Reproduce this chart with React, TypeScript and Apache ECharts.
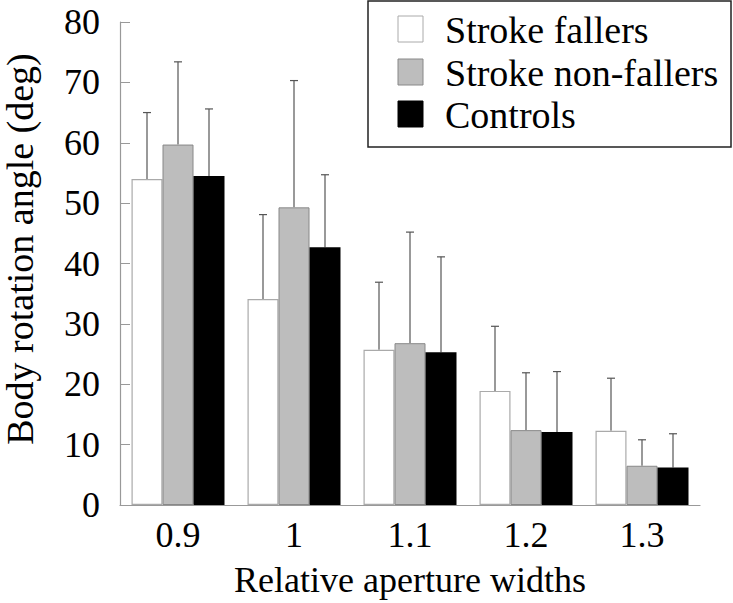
import React, { useEffect, useRef } from "react";
import * as echarts from "echarts";

const categories = ["0.9", "1", "1.1", "1.2", "1.3"];
const seriesNames = ["Stroke fallers", "Stroke non-fallers", "Controls"];
const fallers = [54.0, 34.1, 25.7, 18.9, 12.3];
const fallersSD = [11.0, 14.0, 11.2, 10.7, 8.7];
const nonFallers = [59.7, 49.3, 26.8, 12.4, 6.5];
const nonFallersSD = [13.7, 21.0, 18.4, 9.5, 4.3];
const controls = [54.5, 42.7, 25.3, 12.1, 6.2];
const controlsSD = [11.1, 12.0, 15.8, 10.0, 5.6];
const yTicks = [0, 10, 20, 30, 40, 50, 60, 70, 80];

const FONT = "Liberation Serif";
const BAR_W = 31;
const fills = ["#fff", "#bdbdbd", "#000"];
const borders = ["#aaa", "#888", "#000"];

function errorSeries(idx: number, vals: number[], sds: number[]) {
  const offset = (idx - 1) * BAR_W;
  return {
    type: "custom",
    name: seriesNames[idx] + " SD",
    z: 1,
    data: vals.map((v, i) => [i, v, v + sds[i]]),
    renderItem: (params: any, api: any) => {
      const base = api.coord([api.value(0), api.value(1)]);
      const top = api.coord([api.value(0), api.value(2)]);
      const x = base[0] + offset;
      const style = { stroke: "#555", lineWidth: 1.2 };
      return {
        type: "group",
        children: [
          { type: "line", shape: { x1: x, y1: base[1], x2: x, y2: top[1] }, style },
          { type: "line", shape: { x1: x - 4, y1: top[1], x2: x + 4, y2: top[1] }, style },
        ],
      };
    },
    silent: true,
  };
}

export default function App() {
  const ref = useRef<HTMLDivElement>(null);
  useEffect(() => {
    document.body.style.margin = "0";
    if (!ref.current) return;
    const chart = echarts.init(ref.current, null, { renderer: "svg" });
    const legendTops = [16, 59, 101];
    const legendGraphics: any[] = [];
    seriesNames.forEach((name, i) => {
      legendGraphics.push({
        type: "rect",
        shape: { x: 398, y: legendTops[i], width: 25, height: 26 },
        style: { fill: fills[i], stroke: borders[i], lineWidth: 1 },
        z: 10,
      });
      legendGraphics.push({
        type: "text",
        x: 445,
        y: legendTops[i] + 14,
        style: {
          text: name,
          font: `38px ${FONT}`,
          fill: "#000",
          align: "left",
          verticalAlign: "middle",
        },
        z: 10,
      });
    });
    chart.setOption({
      animation: false,
      backgroundColor: "#fff",
      textStyle: { fontFamily: FONT },
      grid: { left: 120, top: 22, right: 33, bottom: 98, containLabel: false },
      graphic: [
        {
          type: "rect",
          shape: { x: 368, y: 1, width: 363, height: 146 },
          style: { fill: "#fff", stroke: "#222", lineWidth: 1.5 },
          z: 9,
        },
        ...legendGraphics,
        {
          type: "text",
          x: 20,
          y: 249,
          rotation: Math.PI / 2,
          style: {
            text: "Body rotation angle (deg)",
            font: `38px ${FONT}`,
            fill: "#000",
            align: "center",
            verticalAlign: "middle",
          },
        },
      ],
      xAxis: {
        type: "category",
        data: categories,
        name: "Relative aperture widths",
        nameLocation: "middle",
        nameGap: 57,
        nameTextStyle: { fontFamily: FONT, fontSize: 36, color: "#000" },
        axisLine: { lineStyle: { color: "#999", width: 1.2 } },
        axisTick: { show: false },
        axisLabel: { fontFamily: FONT, fontSize: 36, color: "#000", margin: 12 },
      },
      yAxis: {
        type: "value",
        min: yTicks[0],
        max: yTicks[yTicks.length - 1],
        interval: 10,
        axisLine: { show: true, lineStyle: { color: "#999", width: 1.2 } },
        axisTick: { show: true, inside: true, length: 10, lineStyle: { color: "#999" } },
        splitLine: { show: false },
        axisLabel: { fontFamily: FONT, fontSize: 36, color: "#000", margin: 20 },
      },
      series: [
        {
          name: seriesNames[0],
          type: "bar",
          data: fallers,
          barWidth: BAR_W,
          barGap: "0%",
          z: 2,
          itemStyle: { color: fills[0], borderColor: borders[0], borderWidth: 1.2 },
        },
        {
          name: seriesNames[1],
          type: "bar",
          data: nonFallers,
          barWidth: BAR_W,
          barGap: "0%",
          z: 2,
          itemStyle: { color: fills[1], borderColor: borders[1], borderWidth: 1 },
        },
        {
          name: seriesNames[2],
          type: "bar",
          data: controls,
          barWidth: BAR_W,
          barGap: "0%",
          z: 2,
          itemStyle: { color: fills[2] },
        },
        errorSeries(0, fallers, fallersSD),
        errorSeries(1, nonFallers, nonFallersSD),
        errorSeries(2, controls, controlsSD),
      ],
    });
    return () => chart.dispose();
  }, []);
  return <div ref={ref} style={{ width: 733, height: 603 }} />;
}
